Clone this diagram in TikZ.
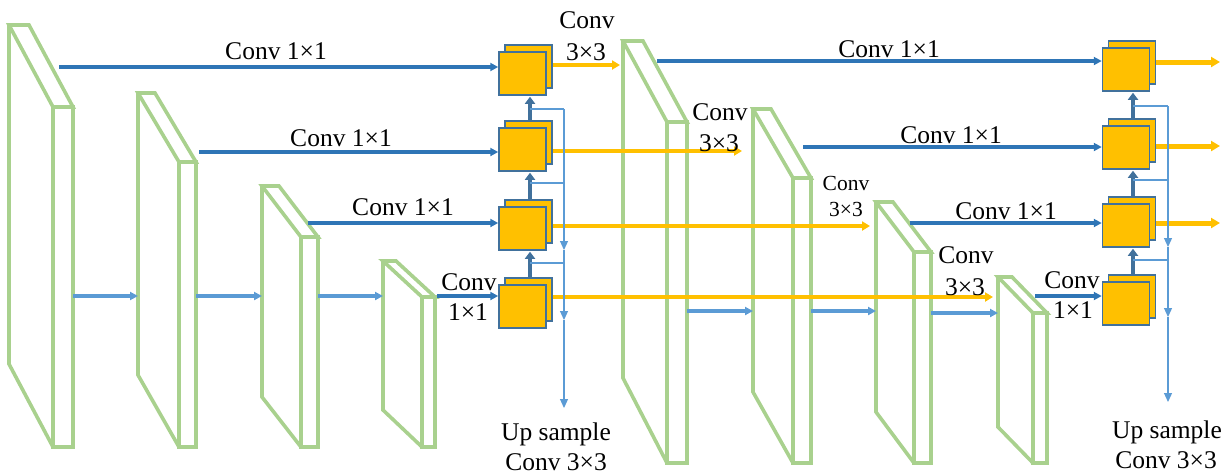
\documentclass[tikz,border=0pt]{standalone}
\usepackage{fontspec}
\setmainfont{Liberation Serif}
\usetikzlibrary{arrows.meta,calc}
\definecolor{slabgreen}{HTML}{A9D18E}
\definecolor{convblue}{HTML}{2E75B6}
\definecolor{lightblue}{HTML}{5B9BD5}
\definecolor{featyellow}{HTML}{FFC000}
\definecolor{boxedge}{HTML}{41719C}
% #1 xb, #2 yt, #3 xf, #4 xr, #5 yft, #6 yb, #7 ybb
\newcommand{\drawslab}[7]{%
  \draw[slabline] (#1,#2) -- ({#1+#4-#3},#2) -- (#4,#5) -- (#3,#5) -- cycle;
  \draw[slabline] (#3,#5) rectangle (#4,#6);
  \draw[slabline] (#1,#2) -- (#1,#7) -- (#3,#6);
}
\begin{document}
\begin{tikzpicture}[x=1pt,y=-1pt,
  slabline/.style={draw=slabgreen,line width=3.6pt,line join=miter},
  conv/.style={draw=convblue,line width=3.2pt,-{Triangle[length=8pt,width=8pt]}},
  chainar/.style={draw=lightblue,line width=3.2pt,-{Triangle[length=8pt,width=8pt]}},
  yel/.style={draw=featyellow,line width=4pt,-{Triangle[length=8pt,width=9pt]}},
  yelout/.style={draw=featyellow,line width=5pt,-{Triangle[length=9pt,width=10pt]}},
  upar/.style={draw=boxedge,line width=4pt,-{Triangle[length=7pt,width=10pt]}},
  thinline/.style={draw=lightblue,line width=1.2pt},
  thinar/.style={thinline,-{Triangle[length=9pt,width=8pt]}},
  fbox/.style={draw=boxedge,fill=featyellow,line width=1.5pt,minimum width=47pt,minimum height=43pt,inner sep=0pt},
  lab/.style={font=\fontsize{25.5}{28}\selectfont,inner sep=0pt,anchor=base},
  smalllab/.style={font=\fontsize{21.5}{24}\selectfont,inner sep=0pt,anchor=base},
]
\useasboundingbox (0,0) rectangle (1231,475);

% ---------------- slabs ----------------
\drawslab{9}{25}{53}{73}{107}{447}{364}
\drawslab{138}{93}{179}{196}{162}{447}{375}
\drawslab{262}{186}{301}{318}{237}{447}{397}
\drawslab{383}{261}{422}{435}{297}{447}{410}
\drawslab{623}{41}{667}{687}{122}{463}{378}
\drawslab{753}{109}{793}{811}{178}{463}{392}
\drawslab{876}{202}{914}{931}{252}{463}{412}
\drawslab{998}{277}{1033}{1047}{313}{463}{427}

% ---------------- feature boxes ----------------
\foreach \n/\y in {1/73.5,2/149.5,3/228.5,4/306.5}{
  \node[fbox] (bA\n) at (528.5,\y-7) {};
  \node[fbox] (fA\n) at (522.5,\y) {};
}
\foreach \n/\y in {1/69.5,2/147.5,3/225.5,4/303.5}{
  \node[fbox] (bB\n) at (1132,\y-7) {};
  \node[fbox] (fB\n) at (1126,\y) {};
}

% ---------------- bottom chain (light blue) ----------------
\coordinate (s1r) at (73,296);  \coordinate (s2l) at (138,296);
\coordinate (s2r) at (196,296); \coordinate (s3l) at (262,296);
\coordinate (s3r) at (318,296); \coordinate (s4l) at (383,296);
\coordinate (s5r) at (687,311); \coordinate (s6l) at (753,311);
\coordinate (s6r) at (811,311); \coordinate (s7l) at (876,311);
\coordinate (s7r) at (931,313); \coordinate (s8l) at (998,313);
\draw[chainar] (s1r) -- (s2l);
\draw[chainar] (s2r) -- (s3l);
\draw[chainar] (s3r) -- (s4l);
\draw[chainar] (s5r) -- (s6l);
\draw[chainar] (s6r) -- (s7l);
\draw[chainar] (s7r) -- (s8l);

% ---------------- Conv 1x1 (dark blue) ----------------
\coordinate (cA1) at (59,67);
\coordinate (cA2) at (199,152);
\coordinate (cA3) at (308,223);
\coordinate (cA4) at (437,296);
\coordinate (cB1) at (657,61);
\coordinate (cB2) at (803,147);
\coordinate (cB3) at (910,223);
\coordinate (cB4) at (1035,296);
\foreach \n in {1,2,3,4}{
  \draw[conv] (cA\n) -- (cA\n -| fA\n.west);
  \draw[conv] (cB\n) -- (cB\n -| fB\n.west);
}

% ---------------- yellow (Conv 3x3) ----------------
\coordinate (yA1) at (620,65);
\coordinate (yA2) at (742,151);
\coordinate (yA3) at (870,226);
\coordinate (yA4) at (993,297);
\foreach \n in {1,2,3,4}{
  \draw[yel] (yA\n -| bA\n.east) -- (yA\n);
}
\coordinate (oB1) at (1220,62);
\coordinate (oB2) at (1220,146);
\coordinate (oB3) at (1220,223);
\foreach \n in {1,2,3}{
  \draw[yelout] (oB\n -| bB\n.east) -- (oB\n);
}

% ---------------- up arrows and thin lines, column A ----------------
\coordinate (uA) at (530,0);
\draw[upar] (bA2.north -| uA) -- ($(fA1.south -| uA)+(0,1)$);
\draw[upar] (bA3.north -| uA) -- ($(fA2.south -| uA)+(0,1)$);
\draw[upar] (bA4.north -| uA) -- ($(fA3.south -| uA)+(0,1)$);
\coordinate (vA0) at (564,109);
\coordinate (vA1) at (564,183);
\coordinate (vA2) at (564,263);
\coordinate (tA1) at (564,250);
\coordinate (tA2) at (564,320);
\coordinate (tA3) at (564,408);
\draw[thinline] (uA |- vA0) -- (vA0);
\draw[thinline] (uA |- vA1) -- (vA1);
\draw[thinline] (uA |- vA2) -- (vA2);
\draw[thinar] (vA0) -- (tA1);
\draw[thinar] (tA1) -- (tA2);
\draw[thinar] (tA2) -- (tA3);

% ---------------- up arrows and thin lines, column B ----------------
\coordinate (uB) at (1133,0);
\draw[upar] (bB2.north -| uB) -- ($(fB1.south -| uB)+(0,1)$);
\draw[upar] (bB3.north -| uB) -- ($(fB2.south -| uB)+(0,1)$);
\draw[upar] (bB4.north -| uB) -- ($(fB3.south -| uB)+(0,1)$);
\coordinate (vB0) at (1168,106);
\coordinate (vB1) at (1168,180);
\coordinate (vB2) at (1168,260);
\coordinate (tB1) at (1168,247);
\coordinate (tB2) at (1168,317);
\coordinate (tB3) at (1168,402);
\draw[thinline] (uB |- vB0) -- (vB0);
\draw[thinline] (uB |- vB1) -- (vB1);
\draw[thinline] (uB |- vB2) -- (vB2);
\draw[thinar] (vB0) -- (tB1);
\draw[thinar] (tB1) -- (tB2);
\draw[thinar] (tB2) -- (tB3);

% ---------------- labels ----------------
\node[lab] (LA1) at (276,59) {Conv 1×1};
\node[lab] (LA2) at (341,146) {Conv 1×1};
\node[lab] (LA3) at (403,215) {Conv 1×1};
\node[lab] (LA4a) at (469,290) {Conv};
\node[lab] (LA4b) at (468,320) {1×1};
\node[lab] (LB1) at (889,57) {Conv 1×1};
\node[lab] (LB2) at (951,143) {Conv 1×1};
\node[lab] (LB3) at (1006,219) {Conv 1×1};
\node[lab] (LB4a) at (1072,288) {Conv};
\node[lab] (LB4b) at (1073,318) {1×1};

\node[lab] (K1a) at (587,28) {Conv};
\node[lab] (K1b) at (586,60) {3×3};
\node[lab] (K2a) at (720,120) {Conv};
\node[lab] (K2b) at (719,151) {3×3};
\node[smalllab] (K3a) at (846,190) {Conv};
\node[smalllab] (K3b) at (846,216) {3×3};
\node[lab] (K4a) at (966,263) {Conv};
\node[lab] (K4b) at (965,295) {3×3};

\node[lab] (UA1) at (556,440) {Up sample};
\node[lab] (UA2) at (556,470) {Conv 3×3};
\node[lab] (UB1) at (1167,438) {Up sample};
\node[lab] (UB2) at (1166,468) {Conv 3×3};
\end{tikzpicture}
\end{document}
